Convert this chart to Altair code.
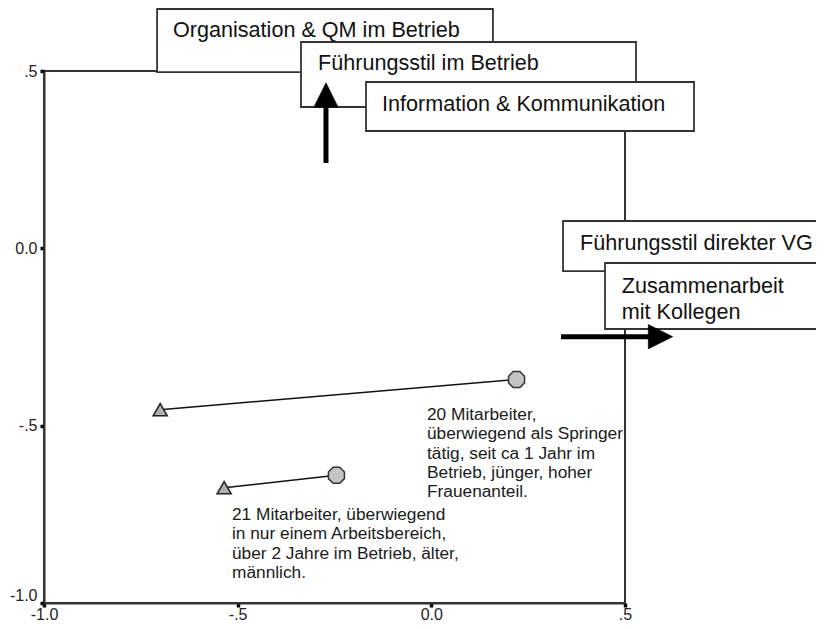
import altair as alt
import pandas as pd

# --- profile points (two groups, triangle = start, circle = end) ---
pt_group = ["A", "A", "B", "B"]
pt_kind = ["triangle", "circle", "triangle", "circle"]
pt_dim1 = [-0.70, 0.22, -0.535, -0.245]
pt_dim2 = [-0.455, -0.37, -0.675, -0.64]

# --- axis ticks ---
tick_values = [-1.0, -0.5, 0.0, 0.5]
tick_labels = ["-1.0", "-.5", "0.0", ".5"]

# --- labelled boxes (data units) ---
box_text = ["Organisation & QM im Betrieb", "Führungsstil im Betrieb",
            "Information & Kommunikation", "Führungsstil direkter VG",
            "Zusammenarbeit\nmit Kollegen"]
box_x1 = [-0.708, -0.3365, -0.1687, 0.340, 0.4484]
box_x2 = [0.159, 0.5284, 0.6782, 1.03, 1.03]
box_y1 = [0.6748, 0.5818, 0.469, 0.077, -0.0413]
box_y2 = [0.497, 0.3985, 0.3308, -0.064, -0.2274]
box_tx = [-0.667, -0.2926, -0.1274, 0.3838, 0.4915]
box_ty = [0.596, 0.503, 0.386, -0.005, -0.126]

# --- annotations ---
note_text = ["20 Mitarbeiter,\nüberwiegend als Springer\ntätig, seit ca 1 Jahr im\nBetrieb, jünger, hoher\nFrauenanteil.",
             "21 Mitarbeiter, überwiegend\nin nur einem Arbeitsbereich,\nüber 2 Jahre im Betrieb, älter,\nmännlich."]
note_x = [-0.0112, -0.5146]
note_y = [-0.484, -0.766]

# --- arrows ---
shaft_x1 = [-0.272, 0.3348]
shaft_x2 = [-0.272, 0.565]
shaft_y1 = [0.2406, -0.249]
shaft_y2 = [0.418, -0.249]
head_x = [-0.272, 0.5917]
head_y = [0.4323, -0.249]
head_shape = ["M0,-1L1,1L-1,1Z", "M1,0L-1,1L-1,-1Z"]

pts = pd.DataFrame({"group": pt_group, "kind": pt_kind, "d1": pt_dim1, "d2": pt_dim2})
boxes = pd.DataFrame({"label": box_text, "x1": box_x1, "x2": box_x2, "y1": box_y1,
                      "y2": box_y2, "tx": box_tx, "ty": box_ty})
notes = pd.DataFrame({"label": note_text, "x": note_x, "y": note_y})
shafts = pd.DataFrame({"x1": shaft_x1, "x2": shaft_x2, "y1": shaft_y1, "y2": shaft_y2})
heads_up = pd.DataFrame({"x": head_x[:1], "y": head_y[:1]})
heads_right = pd.DataFrame({"x": head_x[1:], "y": head_y[1:]})

label_expr = " : ".join(
    f"datum.value == {v} ? '{l}'" for v, l in zip(tick_values[:-1], tick_labels[:-1])
) + f" : '{tick_labels[-1]}'"

FONT = "Liberation Sans"
sx = alt.Scale(domain=[-1, 0.5], nice=False, zero=False)
sy = alt.Scale(domain=[-1, 0.5], nice=False, zero=False)

x_axis = alt.Axis(values=tick_values, labelExpr=label_expr, labelFont=FONT, labelFontSize=16,
                  labelColor="#222", labelBaseline="alphabetic", labelPadding=12,
                  labelFlush=False, labelOverlap=False, tickSize=4, tickWidth=3.5,
                  tickColor="#000", domainColor="#333", domainWidth=2, grid=False, title=None)
y_axis = alt.Axis(values=tick_values, labelExpr=label_expr, labelFont=FONT, labelFontSize=16,
                  labelColor="#222", labelAlign="right",
                  labelBaseline=alt.condition("datum.value == -1", alt.value("bottom"), alt.value("middle")),
                  labelPadding=3, labelFlush=False, labelOverlap=False, tickSize=4, tickWidth=3.5,
                  tickColor="#000", domainColor="#333", domainWidth=2, grid=False, title=None)


def X(f):
    return alt.X(f, scale=sx, axis=x_axis, title=None)


def Y(f):
    return alt.Y(f, scale=sy, axis=y_axis, title=None)


lines = alt.Chart(pts).mark_line(color="#111", strokeWidth=1.5).encode(
    x=X("d1:Q"), y=Y("d2:Q"), detail="group:N")

tri = alt.Chart(pts).transform_filter("datum.kind == 'triangle'").mark_point(
    shape="triangle-up", size=200, filled=True, fill="#b0b0b0", stroke="#222",
    strokeWidth=1.5, opacity=1).encode(x=X("d1:Q"), y=Y("d2:Q"))

octo = ("M0.383,-0.924L0.924,-0.383L0.924,0.383L0.383,0.924L-0.383,0.924"
        "L-0.924,0.383L-0.924,-0.383L-0.383,-0.924Z")
circ = alt.Chart(pts).transform_filter("datum.kind == 'circle'").mark_point(
    shape=octo, size=300, filled=True, fill="#c4c4c4", stroke="#333",
    strokeWidth=1.5, opacity=1).encode(x=X("d1:Q"), y=Y("d2:Q"))

notes_layer = alt.Chart(notes).mark_text(
    align="left", baseline="alphabetic", font=FONT, fontSize=17.3, lineHeight=19.3,
    lineBreak="\n", color="#1a1a1a").encode(x=X("x:Q"), y=Y("y:Q"), text="label:N")

rects = alt.Chart(boxes).mark_rect(fill="white", stroke="#333", strokeWidth=1.8).encode(
    x=X("x1:Q"), x2="x2:Q", y=Y("y1:Q"), y2="y2:Q")

box_labels = alt.Chart(boxes).mark_text(
    align="left", baseline="alphabetic", font=FONT, fontSize=21.6, lineHeight=25.5,
    lineBreak="\n", color="#111").encode(x=X("tx:Q"), y=Y("ty:Q"), text="label:N")

shaft_layer = alt.Chart(shafts).mark_rule(color="#000", strokeWidth=5).encode(
    x=X("x1:Q"), x2="x2:Q", y=Y("y1:Q"), y2="y2:Q")

head_up = alt.Chart(heads_up).mark_point(
    shape=head_shape[0], size=600, filled=True, fill="#000", stroke="#000",
    strokeWidth=0.5, opacity=1).encode(x=X("x:Q"), y=Y("y:Q"))
head_right = alt.Chart(heads_right).mark_point(
    shape=head_shape[1], size=600, filled=True, fill="#000", stroke="#000",
    strokeWidth=0.5, opacity=1).encode(x=X("x:Q"), y=Y("y:Q"))

chart = alt.layer(lines, tri, circ, notes_layer, rects, box_labels,
                  shaft_layer, head_up, head_right).properties(
    width=581, height=532,
    autosize=alt.AutoSizeParams(type="none"),
    padding={"left": 36, "top": 63, "right": 191, "bottom": 18},
    background="white",
).configure_view(stroke="#333", strokeWidth=2)

chart.save("out.html", embed_options={"renderer": "svg", "actions": False})
